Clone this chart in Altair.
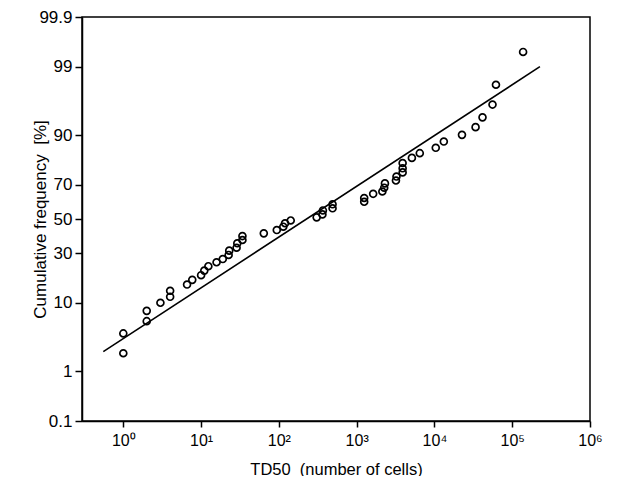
import altair as alt
import pandas as pd
from statistics import NormalDist

# TD50 values (number of cells) and cumulative frequency (%)
td50 = [1, 1, 2, 2, 3, 4, 4, 6.6, 7.7, 10, 11, 12.4, 15.8, 19, 22.6, 23, 28.6, 29.2, 34, 34,
        64, 94, 114, 120, 142, 306, 363, 368, 490, 490, 1250, 1250, 1630, 2140, 2260, 2310,
        3200, 3250, 3900, 3900, 3900, 5130, 6480, 10400, 13200, 22600, 33800, 41500, 55800,
        61800, 138000]
cumfreq = [4.0, 2.0, 8.0, 5.9, 10.0, 11.7, 13.6, 15.8, 17.6, 19.5, 21.5, 23.5, 25.4, 27.0,
           29.1, 31.4, 33.0, 35.5, 37.4, 39.7, 41.3, 43.3, 45.3, 47.4, 49.1, 51.0, 52.8, 55.2,
           56.5, 58.9, 60.4, 62.6, 65.0, 66.3, 68.4, 70.7, 72.2, 74.2, 76.2, 78.1, 80.4, 82.5,
           84.3, 86.2, 88.2, 90.1, 92.0, 94.0, 96.0, 98.0, 99.47]

# fitted line end points
fit_x = [0.553, 227000]
fit_p = [2.12, 99.01]

y_ticks = [0.1, 1, 10, 30, 50, 70, 90, 99, 99.9]
x_ticks = [1, 10, 100, 1000, 10000, 100000, 1000000]

nd = NormalDist()
y_tick_z = [nd.inv_cdf(p / 100) for p in y_ticks]

pts = pd.DataFrame({"x": td50, "p": cumfreq})
fit = pd.DataFrame({"x": fit_x, "p": fit_p})

FONT = "Liberation Sans"
NB = "\u00a0"

xscale = alt.Scale(type="log", domain=[0.2944, 1e6], nice=False)
yscale = alt.Scale(domain=[y_tick_z[0] - 1e-9, y_tick_z[-1] + 1e-9], nice=False, zero=False)

xaxis = alt.Axis(
    values=x_ticks,
    labelExpr='"10" + ["⁰","¹","²","³","⁴","⁵","⁶"][round(log(datum.value)/LN10)]',
    title="TD50" + NB + NB + "(number of cells)",
    grid=False, tickSize=6, labelPadding=5, labelFontSize=16, titleFontSize=16.5,
    titleFontWeight="normal", labelFont=FONT, titleFont=FONT,
    titleY=48, titleBaseline="middle",
    domainColor="black", tickColor="black", labelColor="black", titleColor="black",
    domainWidth=1.5, tickWidth=1.5, labelFlush=False, labelOverlap=False,
)
yaxis = alt.Axis(
    values=y_tick_z,
    labelExpr="round(cumulativeNormal(datum.value)*1000)/10",
    title="Cumulative frequency" + NB + NB + "[%]",
    grid=False, tickSize=7, labelPadding=3, labelFontSize=17, titleFontSize=17,
    titleFontWeight="normal", labelFont=FONT, titleFont=FONT,
    titleX=-42, titleY=202, titleAngle=-90, titleAlign="center", titleBaseline="middle",
    domainColor="black", tickColor="black", labelColor="black", titleColor="black",
    domainWidth=1.5, tickWidth=1.5, labelFlush=False, labelOverlap=False,
)

points = alt.Chart(pts).transform_calculate(
    z="quantileNormal(datum.p/100)"
).mark_point(shape="circle", filled=False, size=48, strokeWidth=1.7, color="black", opacity=1).encode(
    x=alt.X("x:Q", scale=xscale, axis=xaxis),
    y=alt.Y("z:Q", scale=yscale, axis=yaxis),
)

line = alt.Chart(fit).transform_calculate(
    z="quantileNormal(datum.p/100)"
).mark_line(color="black", strokeWidth=1.6).encode(
    x=alt.X("x:Q", scale=xscale),
    y=alt.Y("z:Q", scale=yscale),
)

chart = alt.layer(line, points).properties(
    width=508, height=404,
    padding={"left": 74, "top": 9, "right": 19, "bottom": 55},
    autosize=alt.AutoSizeParams(type="none"),
    background="white",
).configure_view(stroke="black", strokeWidth=1.5)

chart.save("out.html", embed_options={"renderer": "svg", "actions": False})
